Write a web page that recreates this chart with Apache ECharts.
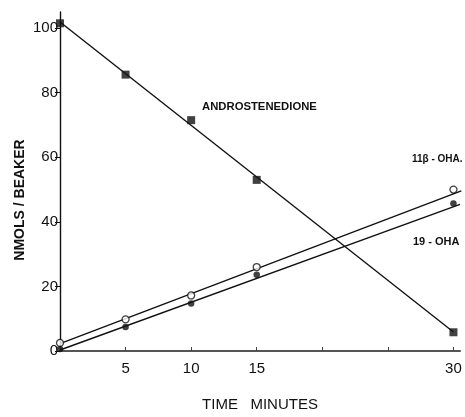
<!DOCTYPE html>
<html>
<head>
<meta charset="utf-8">
<script src="https://cdn.jsdelivr.net/npm/echarts@6/dist/echarts.min.js"></script>
<style>html,body{margin:0;padding:0;background:#fff}#c{width:465px;height:417px}</style>
</head>
<body>
<div id="c"></div>
<script>
// ---- data ----
var timeMin = [0, 5, 10, 15, 30];
var androstenedione = [101.5, 85.6, 71.5, 53, 5.8];
var ohb11 = [2.5, 9.8, 17.2, 26, 50];
var oh19 = [0.6, 7.4, 14.7, 23.6, 45.7];
// fitted straight lines drawn in the figure: [x, y] endpoints
var androFit = [[0, 101.9], [30, 5.9]];
var ohb11Fit = [[0, 2.3], [30.6, 49.6]];
var oh19Fit = [[0, 0.3], [30.5, 45.4]];
var xTicks = [0, 5, 10, 15, 20, 25, 30];
var xLabels = [5, 10, 15, 30];
var yTicks = [0, 20, 40, 60, 80, 100];

function pts(ys) { return timeMin.map(function (t, i) { return [t, ys[i]]; }); }

var chart = echarts.init(document.getElementById('c'), null, { renderer: 'canvas' });
var ink = '#111';
var lineS = { color: ink, width: 1.4 };
chart.setOption({
  backgroundColor: '#fff',
  animation: false,
  grid: { left: 60, right: 5, top: 12, bottom: 62 },
  xAxis: {
    type: 'value', min: 0, max: 30.5,
    name: 'TIME   MINUTES', nameLocation: 'middle', nameGap: 46,
    nameTextStyle: { fontFamily: 'Liberation Sans', fontSize: 15, color: ink },
    axisLine: { lineStyle: { color: '#555', width: 2 } },
    axisTick: { inside: true, length: 4, customValues: xTicks, lineStyle: { color: '#444' } },
    axisLabel: { customValues: xLabels, margin: 10, fontFamily: 'Liberation Sans', fontSize: 15, color: ink },
    splitLine: { show: false }
  },
  yAxis: {
    type: 'value', min: 0, max: 105,
    axisLine: { lineStyle: { color: ink, width: 1.4 } },
    axisTick: { length: 5, customValues: yTicks, lineStyle: { color: ink } },
    axisLabel: { customValues: yTicks, margin: 2, fontFamily: 'Liberation Sans', fontSize: 15, color: ink },
    splitLine: { show: false }
  },
  series: [
    { type: 'line', data: androFit, symbol: 'none', lineStyle: lineS, clip: false, z: 2 },
    { type: 'line', data: ohb11Fit, symbol: 'none', lineStyle: lineS, clip: false, z: 2 },
    { type: 'line', data: oh19Fit, symbol: 'none', lineStyle: lineS, clip: false, z: 2 },
    { type: 'scatter', data: pts(androstenedione), symbol: 'rect', symbolSize: 8,
      itemStyle: { color: ink }, clip: false, z: 3 },
    { type: 'scatter', data: pts(ohb11), symbol: 'circle', symbolSize: 7,
      itemStyle: { color: '#fff', borderColor: ink, borderWidth: 1.3 }, clip: false, z: 3 },
    { type: 'scatter', data: pts(oh19), symbol: 'circle', symbolSize: 6.5,
      itemStyle: { color: ink }, clip: false, z: 3 }
  ],
  graphic: [
    { type: 'text', x: 20, y: 200, rotation: Math.PI / 2,
      style: { text: 'NMOLS / BEAKER', fontFamily: 'Liberation Sans', fontSize: 14, fontWeight: 'bold', fill: ink, align: 'center', verticalAlign: 'middle' } },
    { type: 'text', left: 202, top: 101, style: { text: 'ANDROSTENEDIONE', fontFamily: 'Liberation Sans', fontSize: 11.3, fontWeight: 'bold', fill: ink } },
    { type: 'text', left: 412, top: 154, style: { text: '11β - OHA.', fontFamily: 'Liberation Sans', fontSize: 10, fontWeight: 'bold', fill: ink } },
    { type: 'text', left: 413, top: 236, style: { text: '19 - OHA', fontFamily: 'Liberation Sans', fontSize: 11, fontWeight: 'bold', fill: ink } }
  ]
});
</script>
</body>
</html>
